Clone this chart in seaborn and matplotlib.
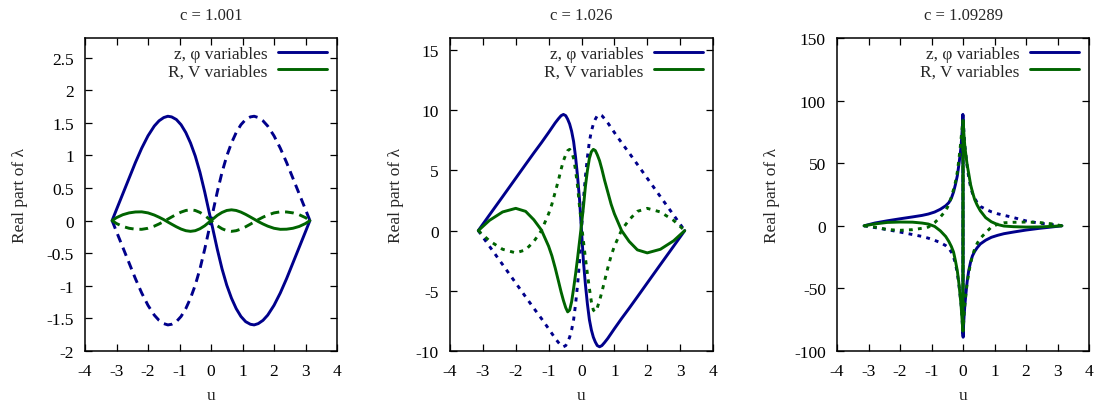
import matplotlib
matplotlib.use("Agg")
import numpy as np
import pandas as pd
import matplotlib.pyplot as plt
import seaborn as sns
from matplotlib.ticker import FuncFormatter, MultipleLocator
from matplotlib.lines import Line2D

# ---------------- data ----------------
titles = ["c = 1.001", "c = 1.026", "c = 1.09289"]
series_names = ["z, \u03c6 variables", "R, V variables"]

# panel 1 (c = 1.001)
u1 = [-3.14, -3.0, -2.8, -2.6, -2.4, -2.2, -2.0, -1.8, -1.65, -1.5, -1.37, -1.25, -1.1, -0.95,
      -0.8, -0.65, -0.5, -0.35, -0.2, -0.1, 0.0,
      0.1, 0.2, 0.35, 0.5, 0.65, 0.8, 0.95, 1.1, 1.25, 1.37, 1.5, 1.65, 1.8, 2.0, 2.2, 2.4,
      2.6, 2.8, 3.0, 3.14]
zphi1_a = [0.0, 0.17, 0.41, 0.65, 0.89, 1.11, 1.30, 1.45, 1.53, 1.58, 1.60, 1.59, 1.55, 1.47,
           1.35, 1.19, 0.99, 0.74, 0.44, 0.22, 0.0,
           -0.22, -0.44, -0.74, -0.99, -1.19, -1.35, -1.47, -1.55, -1.59, -1.60, -1.58, -1.53,
           -1.45, -1.30, -1.11, -0.89, -0.65, -0.41, -0.17, 0.0]
zphi1_b = [0.0, -0.17, -0.41, -0.65, -0.89, -1.11, -1.30, -1.45, -1.53, -1.58, -1.60, -1.59,
           -1.55, -1.47, -1.35, -1.19, -0.99, -0.74, -0.44, -0.22, 0.0,
           0.22, 0.44, 0.74, 0.99, 1.19, 1.35, 1.47, 1.55, 1.59, 1.60, 1.58, 1.53, 1.45, 1.30,
           1.11, 0.89, 0.65, 0.41, 0.17, 0.0]
rv1_a = [0.0, 0.045, 0.09, 0.118, 0.132, 0.134, 0.118, 0.085, 0.052, 0.015, -0.022, -0.055,
         -0.095, -0.13, -0.155, -0.165, -0.155, -0.125, -0.08, -0.04, 0.0,
         0.04, 0.08, 0.125, 0.155, 0.165, 0.155, 0.13, 0.095, 0.055, 0.022, -0.015, -0.052,
         -0.085, -0.118, -0.134, -0.132, -0.118, -0.09, -0.045, 0.0]
rv1_b = [0.0, -0.045, -0.09, -0.118, -0.132, -0.134, -0.118, -0.085, -0.052, -0.015, 0.022,
         0.055, 0.095, 0.13, 0.155, 0.165, 0.155, 0.125, 0.08, 0.04, 0.0,
         -0.04, -0.08, -0.125, -0.155, -0.165, -0.155, -0.13, -0.095, -0.055, -0.022, 0.015,
         0.052, 0.085, 0.118, 0.134, 0.132, 0.118, 0.09, 0.045, 0.0]

# panel 2 (c = 1.026)
u2 = [-3.14, -2.8, -2.4, -2.0, -1.7, -1.45, -1.22, -1.0, -0.9, -0.8, -0.7, -0.62, -0.55,
      -0.48, -0.42, -0.36, -0.3, -0.24, -0.18, -0.12, -0.06, 0.0,
      0.06, 0.12, 0.18, 0.24, 0.3, 0.36, 0.42, 0.48, 0.55, 0.62, 0.7, 0.8, 0.9, 1.0, 1.22,
      1.45, 1.7, 2.0, 2.4, 2.8, 3.14]
zphi2_a = [0.0, 1.3, 2.82, 4.35, 5.5, 6.45, 7.3, 8.15, 8.55, 8.95, 9.3, 9.55, 9.65, 9.55,
           9.25, 8.85, 8.25, 7.4, 6.1, 4.5, 2.6, 0.0,
           -2.6, -4.5, -6.1, -7.4, -8.25, -8.85, -9.25, -9.55, -9.65, -9.55, -9.3, -8.95,
           -8.55, -8.15, -7.3, -6.45, -5.5, -4.35, -2.82, -1.3, 0.0]
zphi2_b = [0.0, -1.3, -2.82, -4.35, -5.5, -6.45, -7.3, -8.15, -8.55, -8.95, -9.3, -9.55,
           -9.65, -9.55, -9.25, -8.85, -8.25, -7.4, -6.1, -4.5, -2.6, 0.0,
           2.6, 4.5, 6.1, 7.4, 8.25, 8.85, 9.25, 9.55, 9.65, 9.55, 9.3, 8.95, 8.55, 8.15, 7.3,
           6.45, 5.5, 4.35, 2.82, 1.3, 0.0]
rv2_a = [0.0, 0.85, 1.55, 1.85, 1.6, 0.9, 0.05, -1.3, -2.1, -3.1, -4.2, -5.1, -5.8, -6.4,
         -6.75, -6.6, -5.9, -4.8, -3.6, -2.3, -0.9, 0.5,
         2.0, 3.7, 5.0, 6.0, 6.55, 6.75, 6.65, 6.3, 5.8, 5.1, 4.2, 3.2, 2.2, 1.4, 0.0, -0.9,
         -1.6, -1.85, -1.55, -0.85, 0.0]
rv2_b = [0.0, -0.85, -1.55, -1.85, -1.6, -0.9, 0.0, 1.4, 2.2, 3.2, 4.2, 5.1, 5.8, 6.3, 6.65,
         6.75, 6.55, 6.0, 5.0, 3.7, 2.0, 0.5,
         -0.9, -2.3, -3.6, -4.8, -5.9, -6.6, -6.75, -6.4, -5.8, -5.1, -4.2, -3.1, -2.1, -1.3,
         0.05, 0.9, 1.6, 1.85, 1.55, 0.85, 0.0]

# panel 3 (c = 1.09289)
u3 = [-3.14, -2.8, -2.4, -2.0, -1.6, -1.3, -1.1, -0.9, -0.72, -0.55, -0.45, -0.37, -0.3,
      -0.24, -0.18, -0.13, -0.09, -0.06, -0.035, -0.015, -0.004,
      0.004, 0.015, 0.035, 0.06, 0.09, 0.13, 0.18, 0.24, 0.3, 0.37, 0.45, 0.55, 0.72, 0.9,
      1.1, 1.3, 1.6, 2.0, 2.4, 2.8, 3.14]
zphi3_a = [0.0, 2.2, 4.0, 5.6, 7.1, 8.3, 9.4, 11.0, 13.2, 16.0, 18.5, 22.0, 27.0, 33.0, 40.0,
           49.0, 57.0, 64.0, 73.0, 81.0, 89.0,
           -89.0, -81.0, -72.0, -63.0, -55.0, -45.0, -36.0, -29.0, -24.0, -20.5, -17.5,
           -14.5, -11.5, -9.2, -7.6, -6.3, -5.0, -3.4, -2.1, -1.0, 0.0]
zphi3_b = [0.0, -1.4, -3.1, -5.0, -7.0, -8.5, -9.9, -11.6, -13.4, -15.8, -18.0, -21.0, -25.0,
           -30.0, -38.0, -47.0, -56.0, -63.0, -72.0, -81.0, -89.0,
           89.0, 81.0, 73.0, 64.0, 57.0, 48.0, 39.0, 31.0, 26.0, 22.0, 18.5, 15.5, 13.2,
           11.2, 9.6, 8.4, 6.6, 3.9, 2.2, 1.0, 0.0]
rv3_a = [0.0, 1.5, 2.7, 3.0, 2.9, 2.2, 1.4, -0.5, -4.0, -8.5, -12.5, -16.5, -21.0, -28.0,
         -36.0, -46.0, -56.0, -64.0, -73.0, -80.0, -84.0,
         84.0, 79.0, 71.0, 63.0, 57.0, 49.0, 42.0, 33.0, 27.0, 21.0, 16.5, 12.0, 6.5, 3.2,
         1.0, -0.2, -0.7, -1.0, -0.9, -0.5, 0.0]
rv3_b = [0.0, -1.0, -3.0, -3.6, -3.1, -2.0, -1.0, 2.5, 7.0, 12.0, 17.0, 23.0, 29.0, 35.0,
         43.0, 53.0, 62.0, 70.0, 76.0, 81.0, 84.0,
         -84.0, -79.0, -71.0, -63.0, -55.0, -46.0, -38.0, -30.0, -24.0, -18.5, -14.0,
         -10.0, -5.5, -1.0, 1.2, 2.4, 2.8, 3.0, 2.7, 1.6, 0.0]

x_ticks = [-4, -3, -2, -1, 0, 1, 2, 3, 4]
y_limits = [(-2, 2.8), (-10, 16), (-100, 150)]
y_steps = [0.5, 5, 50]

# ---------------- style ----------------
sns.set_style("ticks")
plt.rcParams["font.family"] = ["Liberation Serif", "DejaVu Serif"]
plt.rcParams["axes.unicode_minus"] = False

FS = 12.5
BLUE = "#00008b"
GREEN = "#006400"
LW = 2.1

panels = [
    (u1, zphi1_a, zphi1_b, rv1_a, rv1_b, (3.0, 2.0)),
    (u2, zphi2_a, zphi2_b, rv2_a, rv2_b, (1.4, 1.9)),
    (u3, zphi3_a, zphi3_b, rv3_a, rv3_b, (1.3, 1.8)),
]

W, H = 1096, 402
fig = plt.figure(figsize=(W / 100, H / 100), dpi=100)
boxes_px = [(85, 337), (450, 713), (837, 1089)]
ylabel_right_px = [28, 404, 780]
top_px, bot_px = 39, 352
hpx = bot_px - top_px

fmt = FuncFormatter(lambda v, p: f"{v:g}")

for i, (u, za, zb, ra, rb, dash) in enumerate(panels):
    l, r = boxes_px[i]
    wpx = r - l
    ax = fig.add_axes([l / W, (H - bot_px) / H, wpx / W, hpx / H])
    curves = [(za, BLUE, None), (zb, BLUE, dash), (ra, GREEN, None), (rb, GREEN, dash)]
    for vals, col, d in curves:
        df = pd.DataFrame({"u": u, "v": vals})
        sns.lineplot(data=df, x="u", y="v", ax=ax, color=col, lw=LW,
                     sort=False, estimator=None)
        ln = ax.get_lines()[-1]
        if d is not None:
            ln.set_dashes(d)
            ln.set_dash_capstyle("butt")
    ax.set_xlim(-4, 4)
    ax.set_ylim(*y_limits[i])
    ax.set_xticks(x_ticks)
    ax.yaxis.set_major_locator(MultipleLocator(y_steps[i]))
    ax.xaxis.set_major_formatter(fmt)
    ax.yaxis.set_major_formatter(fmt)
    ax.tick_params(direction="in", top=True, right=True, length=5, width=0.9,
                   labelsize=FS, colors="black")
    ax.tick_params(axis="x", pad=9)
    ax.tick_params(axis="y", pad=8)
    for s in ax.spines.values():
        s.set_linewidth(1.1)
        s.set_color("black")
    ax.set_xlabel("u", fontsize=FS)
    ax.xaxis.set_label_coords(0.5, (bot_px - 388) / hpx)
    ax.set_ylabel("Real part of \u03bb", fontsize=FS)
    ax.yaxis.set_label_coords((ylabel_right_px[i] - l) / wpx, 0.5)
    ax.set_title(titles[i], fontsize=12, pad=14)
    handles = [Line2D([0], [0], color=BLUE, lw=LW), Line2D([0], [0], color=GREEN, lw=LW)]
    ax.legend(handles, series_names, loc="upper right", frameon=False, markerfirst=False,
              handlelength=2.8, handletextpad=0.6, labelspacing=0.08, fontsize=FS,
              borderaxespad=0.0, borderpad=0.2,
              bbox_to_anchor=(1 - 7 / wpx, 1 - 4 / hpx))

fig.savefig("out.png", dpi=100)
